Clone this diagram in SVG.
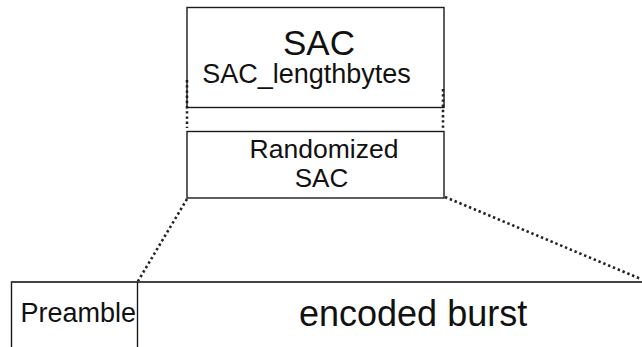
<svg xmlns="http://www.w3.org/2000/svg" width="642" height="347" viewBox="0 0 642 347">
  <style>
    .box { fill: #ffffff; stroke: #1a1a1a; stroke-width: 1.4; }
    .lbl { font-family: "Liberation Sans", Arial, sans-serif; fill: #111111; }
    .dots { fill: none; stroke: #222222; stroke-width: 2.6; stroke-dasharray: 2.4 2.8; }
  </style>
  <rect width="642" height="347" fill="#ffffff"/>

  <!-- connectors: dotted guide lines between the blocks -->
  <g id="connectors">
    <line class="dots" x1="187" y1="80" x2="187" y2="128"/>
    <line class="dots" x1="443" y1="89" x2="443" y2="128"/>
    <line class="dots" x1="187" y1="199" x2="137.5" y2="282"/>
    <line class="dots" x1="445" y1="197" x2="641" y2="279"/>
  </g>

  <!-- SAC field -->
  <g id="sac">
    <rect class="box" x="187" y="7.5" width="257" height="100" fill-opacity="0"/>
    <text class="lbl" x="319" y="55" font-size="35" text-anchor="middle">SAC</text>
    <text class="lbl" x="306.5" y="83" font-size="27" text-anchor="middle">SAC_lengthbytes</text>
  </g>

  <!-- randomized SAC -->
  <g id="randomized-sac">
    <rect class="box" x="187" y="131.5" width="257" height="66.5"/>
    <text class="lbl" x="324" y="158" font-size="26.5" text-anchor="middle">Randomized</text>
    <text class="lbl" x="321.5" y="187" font-size="26" text-anchor="middle">SAC</text>
  </g>

  <!-- burst layout -->
  <g id="burst">
    <rect x="11.5" y="282" width="640" height="80" fill="#ffffff" stroke="#1a1a1a" stroke-width="1.4"/>
    <line x1="11.5" y1="282" x2="642" y2="282" stroke="#444444" stroke-width="2"/>
    <line x1="137.5" y1="282" x2="137.5" y2="347" stroke="#1a1a1a" stroke-width="1.4"/>
    <text class="lbl" x="20.5" y="322" font-size="27">Preamble</text>
    <text class="lbl" x="299" y="326" font-size="36">encoded burst</text>
  </g>
</svg>
